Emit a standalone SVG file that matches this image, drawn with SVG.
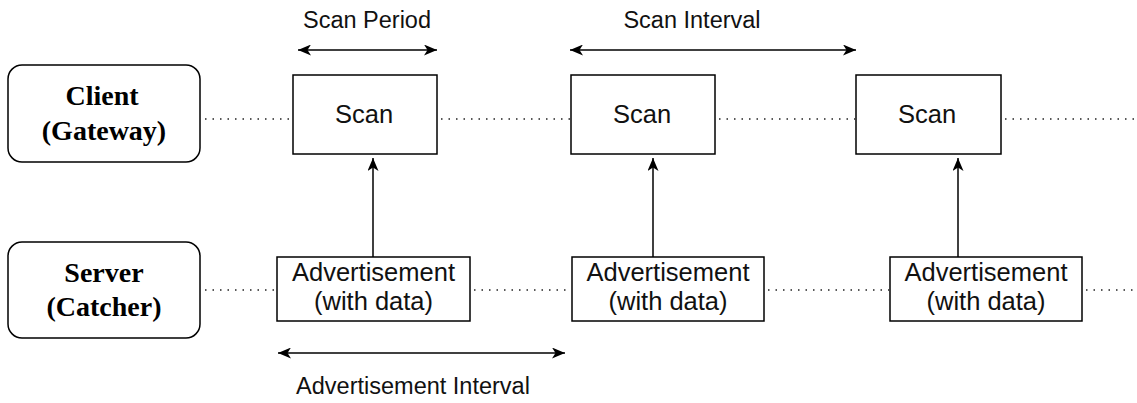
<svg xmlns="http://www.w3.org/2000/svg" width="1137" height="403" viewBox="0 0 1137 403">
<style>
.box{fill:#fff;stroke:#000;stroke-width:1.5}
.role{font-family:"Liberation Serif","Times New Roman",serif;font-weight:bold;font-size:28px;fill:#000;text-anchor:middle}
.t{font-family:"Liberation Sans",Arial,Helvetica,sans-serif;font-size:25.5px;fill:#111;text-anchor:middle}
.lbl{font-family:"Liberation Sans",Arial,Helvetica,sans-serif;font-size:23.5px;fill:#111;text-anchor:middle}
.dot{stroke:#222;stroke-width:1.5;stroke-dasharray:1.5 6;fill:none}
.arr{stroke:#000;stroke-width:1.5;fill:none;marker-end:url(#ah)}
.darr{stroke:#000;stroke-width:1.5;fill:none;marker-start:url(#ah);marker-end:url(#ah)}
</style>
<defs>
<marker id="ah" markerUnits="userSpaceOnUse" markerWidth="13" markerHeight="11" viewBox="0 0 13 11" refX="13" refY="5.5" orient="auto-start-reverse">
<path d="M0,0 L13,5.5 L0,11 L3.5,5.5 Z" fill="#000"/>
</marker>
</defs>
<rect width="1137" height="403" fill="#fff"/>
<g id="connectors">
<line class="dot" x1="205" y1="119" x2="292" y2="119"/>
<line class="dot" x1="441" y1="119" x2="570" y2="119"/>
<line class="dot" x1="719" y1="119" x2="855" y2="119"/>
<line class="dot" x1="1005" y1="119" x2="1137" y2="119"/>
<line class="dot" x1="205" y1="290" x2="276" y2="290"/>
<line class="dot" x1="474" y1="290" x2="571" y2="290"/>
<line class="dot" x1="768" y1="290" x2="889" y2="290"/>
<line class="dot" x1="1086" y1="290" x2="1137" y2="290"/>
<line class="arr" x1="373" y1="257" x2="373" y2="158"/>
<line class="arr" x1="653" y1="257" x2="653" y2="158"/>
<line class="arr" x1="958" y1="257" x2="958" y2="158"/>
<line class="darr" x1="298" y1="50" x2="437" y2="50"/>
<line class="darr" x1="570" y1="50" x2="856" y2="50"/>
<line class="darr" x1="278" y1="353" x2="565" y2="353"/>
</g>
<g id="client">
<rect class="box" x="8" y="65" width="192" height="97" rx="14"/>
<text class="role" x="102" y="105">Client</text>
<text class="role" x="104" y="140">(Gateway)</text>
</g>
<g id="server">
<rect class="box" x="8" y="242" width="192" height="96" rx="14"/>
<text class="role" x="104" y="282">Server</text>
<text class="role" x="104" y="316">(Catcher)</text>
</g>
<g id="scan1">
<rect class="box" x="293" y="75" width="144" height="79"/>
<text class="t" x="364" y="123">Scan</text>
</g>
<g id="scan2">
<rect class="box" x="571" y="75" width="144" height="79"/>
<text class="t" x="642" y="123">Scan</text>
</g>
<g id="scan3">
<rect class="box" x="856" y="75" width="145" height="79"/>
<text class="t" x="927" y="123">Scan</text>
</g>
<g id="adv1">
<rect class="box" x="277" y="257" width="193" height="64"/>
<text class="t" x="373.5" y="281">Advertisement</text>
<text class="t" x="373.5" y="310">(with data)</text>
</g>
<g id="adv2">
<rect class="box" x="572" y="257" width="192" height="64"/>
<text class="t" x="668" y="281">Advertisement</text>
<text class="t" x="668" y="310">(with data)</text>
</g>
<g id="adv3">
<rect class="box" x="890" y="257" width="192" height="64"/>
<text class="t" x="986" y="281">Advertisement</text>
<text class="t" x="986" y="310">(with data)</text>
</g>
<g id="labels">
<text class="lbl" x="367" y="28">Scan Period</text>
<text class="lbl" x="692" y="28">Scan Interval</text>
<text class="lbl" x="413" y="394">Advertisement Interval</text>
</g>
</svg>
